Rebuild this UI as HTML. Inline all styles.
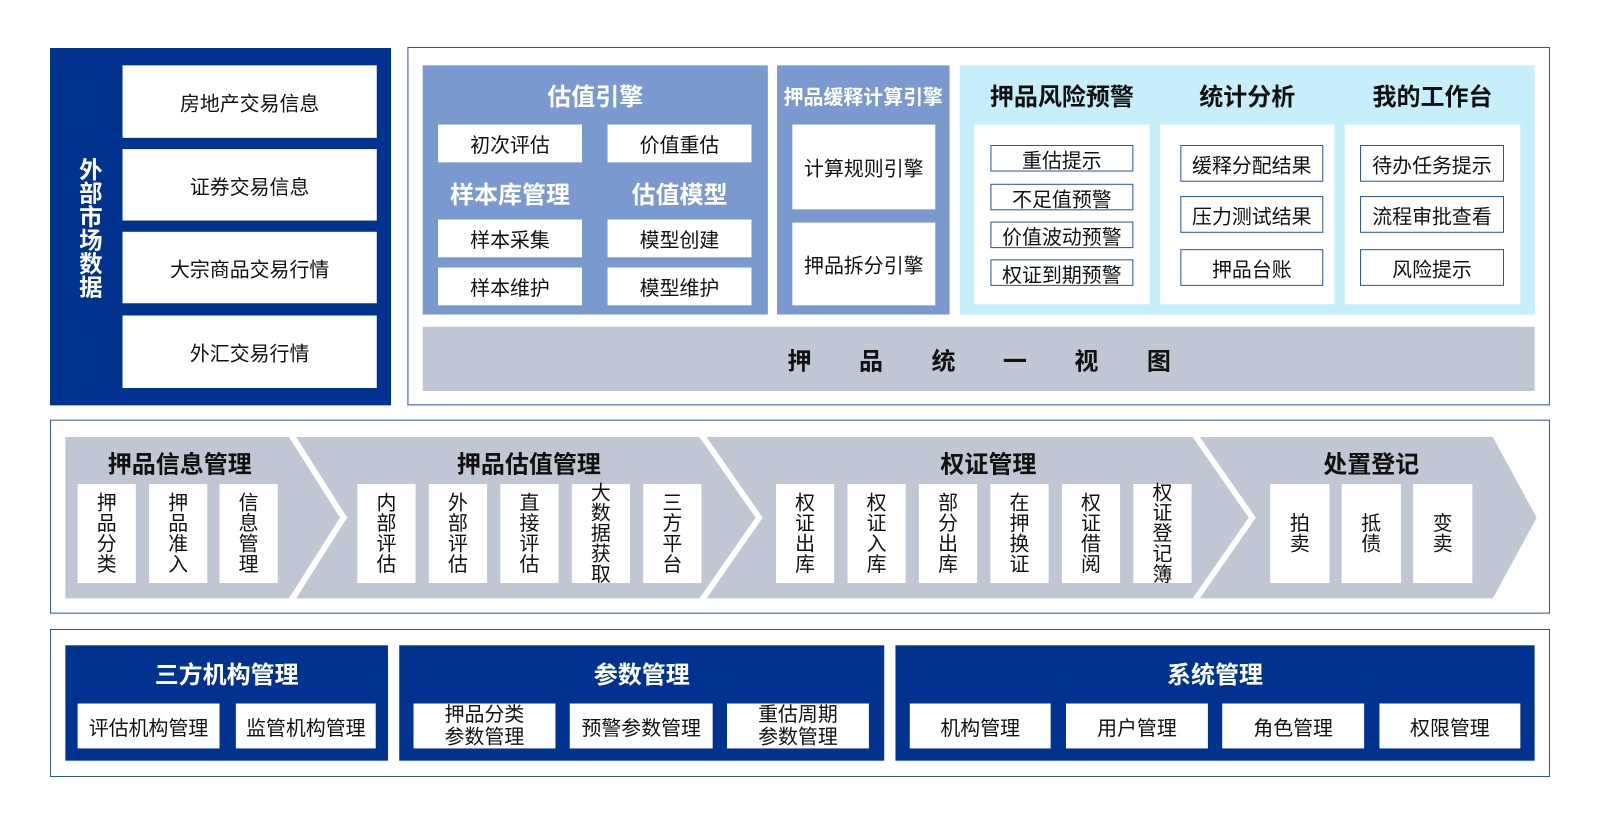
<!DOCTYPE html>
<html><head><meta charset="utf-8">
<style>
*{margin:0;padding:0;box-sizing:border-box}
html,body{width:1601px;height:820px;overflow:hidden;background:#fff}
#w{position:absolute;left:0;top:0;width:1568px;height:803px;transform:scale(1.02105);transform-origin:0 0;font-family:"Liberation Sans","Noto Sans CJK SC",sans-serif;color:#111}
#w div{position:absolute}
.c{display:flex;align-items:center;justify-content:center;text-align:center}
.bx{background:#fff;font-size:19.5px}
.ob{border:1px solid #2f5597;background:#fff}
.t{font-weight:bold;font-size:23.5px}
.tw{color:#fff}
.ol{border:1.5px solid #2f5597}
.v{font-size:19.5px;line-height:20px;flex-direction:column}
.nv{background:#00338f}
</style></head><body><div id="w">
<div class="nv" style="left:49px;top:47px;width:334px;height:350px"></div>
<div class="c tw" style="left:68px;top:140px;width:38px;height:165px;font-size:23px;font-weight:bold;line-height:24px;writing-mode:vertical-rl">外部市场数据</div>
<div class="c bx" style="left:120px;top:64px;width:249px;height:71px">房地产交易信息</div>
<div class="c bx" style="left:120px;top:146px;width:249px;height:70px">证券交易信息</div>
<div class="c bx" style="left:120px;top:227px;width:249px;height:70px">大宗商品交易行情</div>
<div class="c bx" style="left:120px;top:309px;width:249px;height:71px">外汇交易行情</div>
<div class="ob" style="left:399px;top:46px;width:1119px;height:351px"></div>
<div style="left:414px;top:64px;width:338px;height:244px;background:#7a9acf"></div>
<div class="c t tw" style="left:414px;top:76px;width:338px;height:34px">估值引擎</div>
<div class="c bx" style="left:429px;top:122px;width:141px;height:37px">初次评估</div>
<div class="c bx" style="left:595px;top:122px;width:141px;height:37px">价值重估</div>
<div class="c t tw" style="left:419px;top:172px;width:161px;height:34px">样本库管理</div>
<div class="c t tw" style="left:585px;top:172px;width:161px;height:34px">估值模型</div>
<div class="c bx" style="left:429px;top:215px;width:141px;height:37px">样本采集</div>
<div class="c bx" style="left:595px;top:215px;width:141px;height:37px">模型创建</div>
<div class="c bx" style="left:429px;top:262px;width:141px;height:37px">样本维护</div>
<div class="c bx" style="left:595px;top:262px;width:141px;height:37px">模型维护</div>
<div style="left:761px;top:64px;width:169px;height:244px;background:#7a9acf"></div>
<div class="c tw" style="left:756px;top:78px;width:179px;height:30px;font-size:19.5px;font-weight:bold">押品缓释计算引擎</div>
<div class="c bx" style="left:776px;top:122px;width:140px;height:83px">计算规则引擎</div>
<div class="c bx" style="left:776px;top:218px;width:140px;height:81px">押品拆分引擎</div>
<div style="left:940px;top:64px;width:563px;height:244px;background:#c6eefb"></div>
<div class="c t" style="left:944px;top:76px;width:192px;height:34px">押品风险预警</div>
<div class="c t" style="left:1126px;top:76px;width:191px;height:34px">统计分析</div>
<div class="c t" style="left:1307px;top:76px;width:192px;height:34px">我的工作台</div>
<div style="left:954px;top:122px;width:172px;height:176px;background:#fff"></div>
<div style="left:1136px;top:122px;width:171px;height:176px;background:#fff"></div>
<div style="left:1317px;top:122px;width:172px;height:176px;background:#fff"></div>
<div class="c bx ol" style="left:970px;top:142px;width:140px;height:26px">重估提示</div>
<div class="c bx ol" style="left:970px;top:180px;width:140px;height:26px">不足值预警</div>
<div class="c bx ol" style="left:970px;top:217px;width:140px;height:26px">价值波动预警</div>
<div class="c bx ol" style="left:970px;top:254px;width:140px;height:26px">权证到期预警</div>
<div class="c bx ol" style="left:1156px;top:142px;width:140px;height:36px">缓释分配结果</div>
<div class="c bx ol" style="left:1156px;top:192px;width:140px;height:36px">压力测试结果</div>
<div class="c bx ol" style="left:1156px;top:244px;width:140px;height:36px">押品台账</div>
<div class="c bx ol" style="left:1332px;top:142px;width:141px;height:36px">待办任务提示</div>
<div class="c bx ol" style="left:1332px;top:192px;width:141px;height:36px">流程审批查看</div>
<div class="c bx ol" style="left:1332px;top:244px;width:141px;height:36px">风险提示</div>
<div style="left:414px;top:320px;width:1089px;height:63px;background:#c0c6d3"></div>
<div class="c t" style="left:768px;top:337px;width:30px;height:30px">押</div>
<div class="c t" style="left:838px;top:337px;width:30px;height:30px">品</div>
<div class="c t" style="left:909px;top:337px;width:30px;height:30px">统</div>
<div class="c t" style="left:979px;top:337px;width:30px;height:30px">一</div>
<div class="c t" style="left:1049px;top:337px;width:30px;height:30px">视</div>
<div class="c t" style="left:1120px;top:337px;width:30px;height:30px">图</div>
<div class="ob" style="left:49px;top:411px;width:1469px;height:190px"></div>
<svg style="position:absolute;left:0;top:0" width="1568" height="803">
<g fill="#c0c6d3">
<polygon points="64,428 283,428 333,507 283,586 64,586"/>
<polygon points="290,428 685,428 740,507 685,586 290,586 340,507"/>
<polygon points="692,428 1168,428 1223,507 1168,586 692,586 747,507"/>
<polygon points="1175,428 1462,428 1505,507 1462,586 1175,586 1230,507"/>
</g></svg>
<div class="c t" style="left:66px;top:436px;width:220px;height:34px">押品信息管理</div>
<div class="c t" style="left:400px;top:436px;width:236px;height:34px">押品估值管理</div>
<div class="c t" style="left:850px;top:436px;width:236px;height:34px">权证管理</div>
<div class="c t" style="left:1244px;top:436px;width:198px;height:34px">处置登记</div>
<div class="c bx v" style="left:76px;top:474px;width:57px;height:97px">押<br>品<br>分<br>类</div>
<div class="c bx v" style="left:146px;top:474px;width:57px;height:97px">押<br>品<br>准<br>入</div>
<div class="c bx v" style="left:215px;top:474px;width:57px;height:97px">信<br>息<br>管<br>理</div>
<div class="c bx v" style="left:350px;top:474px;width:57px;height:97px">内<br>部<br>评<br>估</div>
<div class="c bx v" style="left:420px;top:474px;width:57px;height:97px">外<br>部<br>评<br>估</div>
<div class="c bx v" style="left:490px;top:474px;width:57px;height:97px">直<br>接<br>评<br>估</div>
<div class="c bx v" style="left:560px;top:474px;width:57px;height:97px">大<br>数<br>据<br>获<br>取</div>
<div class="c bx v" style="left:630px;top:474px;width:57px;height:97px">三<br>方<br>平<br>台</div>
<div class="c bx v" style="left:760px;top:474px;width:57px;height:97px">权<br>证<br>出<br>库</div>
<div class="c bx v" style="left:830px;top:474px;width:57px;height:97px">权<br>证<br>入<br>库</div>
<div class="c bx v" style="left:900px;top:474px;width:57px;height:97px">部<br>分<br>出<br>库</div>
<div class="c bx v" style="left:970px;top:474px;width:57px;height:97px">在<br>押<br>换<br>证</div>
<div class="c bx v" style="left:1040px;top:474px;width:57px;height:97px">权<br>证<br>借<br>阅</div>
<div class="c bx v" style="left:1110px;top:474px;width:57px;height:97px">权<br>证<br>登<br>记<br>簿</div>
<div class="c bx v" style="left:1244px;top:474px;width:58px;height:97px">拍<br>卖</div>
<div class="c bx v" style="left:1314px;top:474px;width:58px;height:97px">抵<br>债</div>
<div class="c bx v" style="left:1384px;top:474px;width:58px;height:97px">变<br>卖</div>
<div class="ob" style="left:49px;top:616px;width:1469px;height:145px"></div>
<div class="nv" style="left:64px;top:632px;width:316px;height:113px"></div>
<div class="nv" style="left:391px;top:632px;width:475px;height:113px"></div>
<div class="nv" style="left:877px;top:632px;width:626px;height:113px"></div>
<div class="c t tw" style="left:64px;top:643px;width:316px;height:32px">三方机构管理</div>
<div class="c t tw" style="left:391px;top:643px;width:475px;height:32px">参数管理</div>
<div class="c t tw" style="left:877px;top:643px;width:626px;height:32px">系统管理</div>
<div class="c bx" style="left:76px;top:689px;width:139px;height:44px">评估机构管理</div>
<div class="c bx" style="left:231px;top:689px;width:137px;height:44px">监管机构管理</div>
<div class="c bx" style="left:405px;top:689px;width:139px;height:44px;line-height:22px">押品分类<br>参数管理</div>
<div class="c bx" style="left:558px;top:689px;width:140px;height:44px">预警参数管理</div>
<div class="c bx" style="left:712px;top:689px;width:139px;height:44px;line-height:22px">重估周期<br>参数管理</div>
<div class="c bx" style="left:891px;top:689px;width:138px;height:44px">机构管理</div>
<div class="c bx" style="left:1044px;top:689px;width:139px;height:44px">用户管理</div>
<div class="c bx" style="left:1197px;top:689px;width:139px;height:44px">角色管理</div>
<div class="c bx" style="left:1351px;top:689px;width:138px;height:44px">权限管理</div>
</div></body></html>
